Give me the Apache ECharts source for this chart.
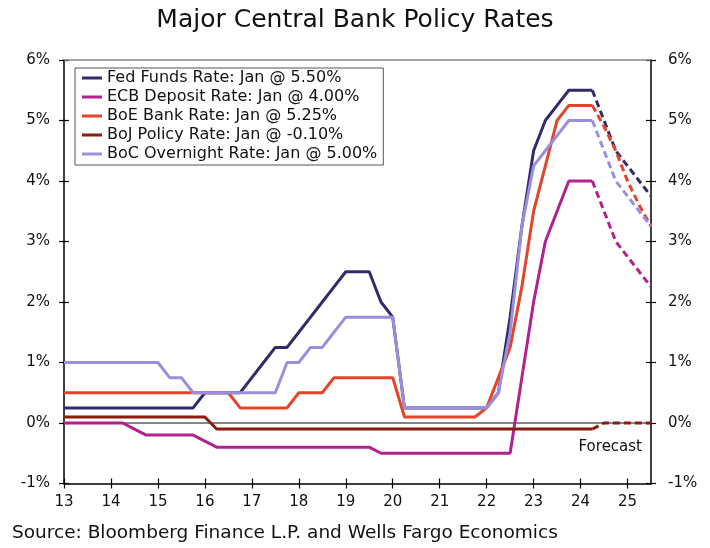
<!DOCTYPE html>
<html><head><meta charset="utf-8">
<script src="https://cdn.jsdelivr.net/npm/echarts@6/dist/echarts.min.js"></script>
<style>html,body{margin:0;padding:0;background:#fff}#c{width:710px;height:548px}</style>
</head><body><div id="c"></div>
<script>
// Quarter-end categories, 2012Q4 .. 2025Q2
const quarters = ['2012Q4',
 '2013Q1','2013Q2','2013Q3','2013Q4','2014Q1','2014Q2','2014Q3','2014Q4',
 '2015Q1','2015Q2','2015Q3','2015Q4','2016Q1','2016Q2','2016Q3','2016Q4',
 '2017Q1','2017Q2','2017Q3','2017Q4','2018Q1','2018Q2','2018Q3','2018Q4',
 '2019Q1','2019Q2','2019Q3','2019Q4','2020Q1','2020Q2','2020Q3','2020Q4',
 '2021Q1','2021Q2','2021Q3','2021Q4','2022Q1','2022Q2','2022Q3','2022Q4',
 '2023Q1','2023Q2','2023Q3','2023Q4','2024Q1','2024Q2','2024Q3','2024Q4',
 '2025Q1','2025Q2'];
const xTickLabels = ['13','14','15','16','17','18','19','20','21','22','23','24','25'];

const seriesNames = ['Fed Funds Rate: Jan @ 5.50%','ECB Deposit Rate: Jan @ 4.00%','BoE Bank Rate: Jan @ 5.25%','BoJ Policy Rate: Jan @ -0.10%','BoC Overnight Rate: Jan @ 5.00%'];

// Actual: 2012Q4 .. 2024Q1 (Jan)
const fedActual = [0.25,0.25,0.25,0.25,0.25,0.25,0.25,0.25,0.25,0.25,0.25,0.25,
 0.5,0.5,0.5,0.5,0.75,1.0,1.25,1.25,1.5,1.75,2.0,2.25,2.5,2.5,2.5,2.0,1.75,
 0.25,0.25,0.25,0.25,0.25,0.25,0.25,0.25,0.5,1.75,3.25,4.5,5.0,5.25,5.5,5.5,5.5];
const ecbActual = [0,0,0,0,0,0,-0.1,-0.2,-0.2,-0.2,-0.2,-0.2,-0.3,
 -0.4,-0.4,-0.4,-0.4,-0.4,-0.4,-0.4,-0.4,-0.4,-0.4,-0.4,-0.4,-0.4,-0.4,
 -0.5,-0.5,-0.5,-0.5,-0.5,-0.5,-0.5,-0.5,-0.5,-0.5,-0.5,-0.5,
 0.75,2.0,3.0,3.5,4.0,4.0,4.0];
const boeActual = [0.5,0.5,0.5,0.5,0.5,0.5,0.5,0.5,0.5,0.5,0.5,0.5,0.5,0.5,0.5,
 0.25,0.25,0.25,0.25,0.25,0.5,0.5,0.5,0.75,0.75,0.75,0.75,0.75,0.75,
 0.1,0.1,0.1,0.1,0.1,0.1,0.1,0.25,0.75,1.25,2.25,3.5,4.25,5.0,5.25,5.25,5.25];
const bojActual = [0.1,0.1,0.1,0.1,0.1,0.1,0.1,0.1,0.1,0.1,0.1,0.1,0.1,
 -0.1,-0.1,-0.1,-0.1,-0.1,-0.1,-0.1,-0.1,-0.1,-0.1,-0.1,-0.1,-0.1,-0.1,-0.1,
 -0.1,-0.1,-0.1,-0.1,-0.1,-0.1,-0.1,-0.1,-0.1,-0.1,-0.1,-0.1,-0.1,-0.1,-0.1,-0.1,-0.1,-0.1];
const bocActual = [1.0,1.0,1.0,1.0,1.0,1.0,1.0,1.0,1.0,0.75,0.75,
 0.5,0.5,0.5,0.5,0.5,0.5,0.5,0.5,1.0,1.0,1.25,1.25,1.5,1.75,1.75,1.75,1.75,1.75,
 0.25,0.25,0.25,0.25,0.25,0.25,0.25,0.25,0.5,1.5,3.25,4.25,4.5,4.75,5.0,5.0,5.0];

// Forecast: 2024Q1 .. 2025Q2
const fedForecast = [5.5,5.0,4.5,4.25,4.0,3.75];
const ecbForecast = [4.0,3.5,3.0,2.75,2.5,2.25];
const boeForecast = [5.25,4.9,4.5,4.0,3.6,3.25];
const bojForecast = [-0.1,0,0,0,0,0];
const bocForecast = [5.0,4.5,4.0,3.75,3.5,3.25];

const colors = ['#322B6B','#B1228F','#E1452B','#8C1B0F','#9B8FDD'];
const FONT = 'DejaVu Sans';

const N = quarters.length;
function padActual(a){ return a.concat(new Array(N - a.length).fill(null)); }
function padForecast(a){ return new Array(N - a.length).fill(null).concat(a); }

const actuals = [fedActual, ecbActual, boeActual, bojActual, bocActual];
const forecasts = [fedForecast, ecbForecast, boeForecast, bojForecast, bocForecast];

const series = [{
  type:'line', name:'ref', data:[], z:1, silent:true,
  markLine:{silent:true, z:1, symbol:'none', animation:false, label:{show:false},
    data:[{yAxis:0, lineStyle:{color:'#858585', width:2, type:'solid'}},
          {yAxis:6, lineStyle:{color:'#858585', width:1.5, type:'solid'}}]}
}];
actuals.forEach((a,i)=>{
  series.push({type:'line', name:seriesNames[i], data:padActual(a), symbol:'none', z:3,
    lineStyle:{color:colors[i], width:3}, itemStyle:{color:colors[i]}, animation:false});
});
forecasts.forEach((a,i)=>{
  series.push({type:'line', name:seriesNames[i]+' F', data:padForecast(a), symbol:'none', z:3,
    lineStyle:{color:colors[i], width:3, type:[7,4]}, itemStyle:{color:colors[i]}, animation:false});
});

function yAx(pos, inside, labels){
  return {type:'value', position:pos, min:-1, max:6, interval:1,
    axisLine:{show:labels, lineStyle:{color:'#000', width:1.5}},
    axisTick:{show:true, inside:inside, length:5, lineStyle:{color:'#000', width:1.2}},
    axisLabel:{show:labels, formatter:'{value}%', color:'#111', fontFamily:FONT, fontSize:15, margin: pos==='left'?14:17},
    splitLine:{show:false}};
}
function xAx(inside, labels){
  return {type:'category', data:quarters, boundaryGap:false, position:'bottom',
    axisLine:{show:labels, onZero:false, lineStyle:{color:'#000', width:1.5}},
    axisTick:{show:true, inside:inside, interval:3, length:5, lineStyle:{color:'#000', width:1.2}},
    axisLabel:{show:labels, interval:3, color:'#111', fontFamily:FONT, fontSize:15, margin:11,
      formatter:(v,idx)=> idx%4===0 ? xTickLabels[idx/4] : ''},
    splitLine:{show:false}};
}

const chart = echarts.init(document.getElementById('c'), null, {renderer:'canvas'});
chart.setOption({
  animation:false,
  title:{text:'Major Central Bank Policy Rates', left:'center', top:3,
    textStyle:{fontFamily:FONT, fontSize:25, fontWeight:'normal', color:'#111'}},
  grid:{left:64, right:59, top:60, bottom:64.5, containLabel:false},
  legend:{data:seriesNames.map(n=>({name:n, icon:'rect'})), orient:'vertical', left:75, top:68,
    itemWidth:20, itemHeight:3, itemGap:3,
    padding:[2,6,3,7], borderColor:'#555', borderWidth:1, backgroundColor:'#fff',
    textStyle:{fontFamily:FONT, fontSize:16, color:'#111', lineHeight:16}, selectedMode:false},
  xAxis:[xAx(true,true), xAx(false,false)],
  yAxis:[yAx('left',false,true), yAx('right',false,true), yAx('left',true,false), yAx('right',true,false)],
  series: series,
  graphic:[
    {type:'text', right:68, top:440, style:{text:'Forecast', font:'15px "DejaVu Sans"', fill:'#111'}},
    {type:'text', left:12, top:524, style:{text:'Source: Bloomberg Finance L.P. and Wells Fargo Economics', font:'18.5px "DejaVu Sans"', fill:'#111'}}
  ]
});
</script></body></html>
